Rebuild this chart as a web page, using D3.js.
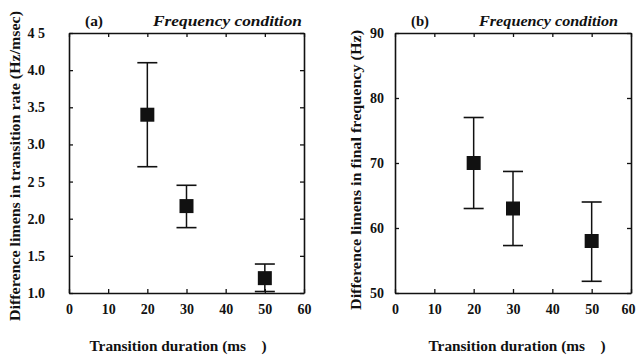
<!DOCTYPE html>
<html>
<head>
<meta charset="utf-8">
<script src="https://cdn.jsdelivr.net/npm/d3@7"></script>
<style>
  body { margin: 0; background: #fff; }
  svg text { font-family: "Liberation Serif", "Times New Roman", serif; font-weight: bold; fill: #111; }
</style>
</head>
<body>
<svg id="chart" width="636" height="356"></svg>
<script>
// duration values (ms)
var durations = [20, 30, 50];

// panel (a): DL in transition rate (Hz/msec)
var rateMean = [3.4, 2.17, 1.2];
var rateLow = [2.7, 1.88, 1.02];
var rateHigh = [4.1, 2.45, 1.39];

// panel (b): DL in final frequency (Hz)
var freqMean = [70, 63, 58];
var freqLow = [63, 57.3, 51.8];
var freqHigh = [77, 68.7, 64];

var xTicks = [0, 10, 20, 30, 40, 50, 60];
var rateTicks = [1.0, 1.5, 2.0, 2.5, 3.0, 3.5, 4.0, 4.5];
var rateTickLabels = ["1.0", "1.5", "2.0", "2 5", "3.0", "3.5", "4.0", "4 5"];
var freqTicks = [50, 60, 70, 80, 90];

var svg = d3.select("#chart");

function drawPanel(opt) {
    var x = d3.scaleLinear().domain([0, 60]).range([opt.left, opt.right]);
    var y = d3.scaleLinear().domain(opt.yDomain).range([293, 33]);
    var g = svg.append("g");

    // frame with inward ticks
    g.append("g").attr("transform", "translate(0,293)")
        .call(d3.axisBottom(x).tickValues(xTicks).tickSizeInner(-4).tickSizeOuter(0).tickPadding(11))
        .call(a => a.selectAll("text").style("font-size", "14px"))
        .call(a => a.selectAll("text").filter(d => d === 60).attr("dx", opt.lastDx));
    g.append("g").attr("transform", "translate(0,33)")
        .call(d3.axisTop(x).tickValues(xTicks).tickSizeInner(-4).tickSizeOuter(0).tickFormat(""));
    g.append("g").attr("transform", "translate(" + opt.left + ",0)")
        .call(d3.axisLeft(y).tickValues(opt.yTicks).tickSizeInner(-4).tickSizeOuter(0)
            .tickPadding(opt.labelPad).tickFormat((d, i) => opt.yLabels[i]))
        .call(a => a.selectAll("text").style("font-size", "14px"));
    g.append("g").attr("transform", "translate(" + opt.right + ",0)")
        .call(d3.axisRight(y).tickValues(opt.yTicks).tickSizeInner(-4).tickSizeOuter(0).tickFormat(""));

    g.selectAll(".domain").attr("stroke", "#111").attr("stroke-width", 1.6);
    g.selectAll(".tick line").attr("stroke", "#111").attr("stroke-width", 1.3);
    g.selectAll(".tick text").attr("fill", "#111");

    // error bars
    var bars = g.selectAll(".err").data(durations).enter().append("g");
    bars.append("line")
        .attr("x1", d => x(d)).attr("x2", d => x(d))
        .attr("y1", (d, i) => y(opt.low[i])).attr("y2", (d, i) => y(opt.high[i]))
        .attr("stroke", "#111").attr("stroke-width", 1.5);
    bars.append("line")
        .attr("x1", d => x(d) - 10).attr("x2", d => x(d) + 10)
        .attr("y1", (d, i) => y(opt.low[i])).attr("y2", (d, i) => y(opt.low[i]))
        .attr("stroke", "#111").attr("stroke-width", 1.6);
    bars.append("line")
        .attr("x1", d => x(d) - 10).attr("x2", d => x(d) + 10)
        .attr("y1", (d, i) => y(opt.high[i])).attr("y2", (d, i) => y(opt.high[i]))
        .attr("stroke", "#111").attr("stroke-width", 1.6);
    bars.append("rect")
        .attr("x", d => x(d) - 7).attr("width", 14)
        .attr("y", (d, i) => y(opt.mean[i]) - 7).attr("height", 14)
        .attr("fill", "#111");

    // titles
    g.append("text").attr("x", opt.left + 16).attr("y", 26).style("font-size", "15px")
        .attr("textLength", 18).attr("lengthAdjust", "spacingAndGlyphs").text(opt.tag);
    g.append("text").attr("x", opt.condX).attr("y", 26).style("font-size", "15.5px")
        .style("font-style", "italic")
        .attr("textLength", opt.condW).attr("lengthAdjust", "spacingAndGlyphs")
        .text("Frequency condition");

    // axis labels
    g.append("text").attr("x", opt.xLabelX).attr("y", 351)
        .attr("text-anchor", "middle").style("font-size", "15.5px")
        .attr("textLength", 177).attr("lengthAdjust", "spacingAndGlyphs")
        .text("Transition duration (ms\u00a0\u00a0\u00a0\u00a0)");
    g.append("text")
        .attr("transform", "translate(" + opt.yLabelX + "," + opt.yLabelY + ") rotate(-90)")
        .attr("text-anchor", "middle").style("font-size", "15.5px")
        .attr("textLength", opt.yTitleW).attr("lengthAdjust", "spacingAndGlyphs")
        .text(opt.yTitle);
}

drawPanel({
    left: 69, right: 304, yDomain: [1.0, 4.5], yTicks: rateTicks, yLabels: rateTickLabels,
    labelPad: 24, mean: rateMean, low: rateLow, high: rateHigh, tag: "(a)", condX: 153, condW: 149,
    xLabelX: 178, lastDx: 0,
    yTitle: "Difference limens in transition rate (Hz/msec)", yTitleW: 310, yLabelX: 20, yLabelY: 166
});
drawPanel({
    left: 395, right: 631, yDomain: [50, 90], yTicks: freqTicks, yLabels: freqTicks.map(String),
    labelPad: 11, mean: freqMean, low: freqLow, high: freqHigh, tag: "(b)", condX: 479, condW: 139,
    xLabelX: 517, lastDx: -3,
    yTitle: "Difference limens in final frequency (Hz)", yTitleW: 280, yLabelX: 361, yLabelY: 170
});
</script>
</body>
</html>
